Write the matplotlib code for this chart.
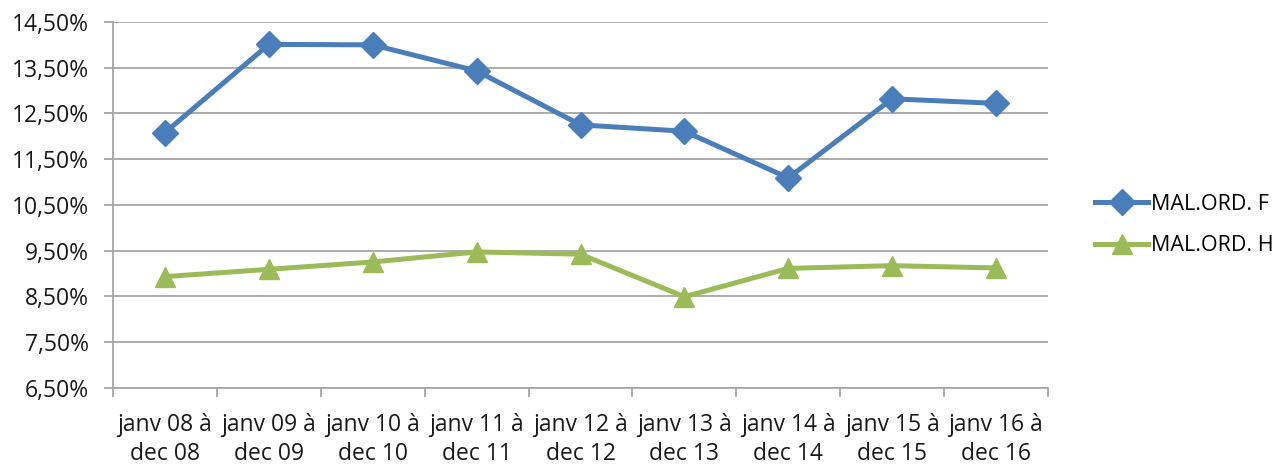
import matplotlib
matplotlib.use("Agg")
import matplotlib.pyplot as plt
from matplotlib.ticker import FuncFormatter, FixedLocator

plt.rcParams['font.family'] = ['Open Sans', 'DejaVu Sans']

categories = ["janv 08 à\ndec 08", "janv 09 à\ndec 09", "janv 10 à\ndec 10",
              "janv 11 à\ndec 11", "janv 12 à\ndec 12", "janv 13 à\ndec 13",
              "janv 14 à\ndec 14", "janv 15 à\ndec 15", "janv 16 à\ndec 16"]
mal_ord_f = [12.08, 14.01, 14.00, 13.43, 12.25, 12.11, 11.09, 12.82, 12.72]
mal_ord_h = [8.93, 9.09, 9.25, 9.47, 9.42, 8.49, 9.11, 9.17, 9.12]
yticks = [6.5, 7.5, 8.5, 9.5, 10.5, 11.5, 12.5, 13.5, 14.5]

FS = 16.5
fig = plt.figure(figsize=(12.82, 4.68), dpi=100)
ax = fig.add_axes([113/1282, 1-387.7/468, (1048-113)/1282, (387.7-22)/468])

x = list(range(len(categories)))
ax.plot(x, mal_ord_f, color='#4A7EBB', lw=3.6, marker='D', markersize=13,
        label='MAL.ORD. F', solid_joinstyle='round')
ax.plot(x, mal_ord_h, color='#9BBB59', lw=3.6, marker='^', markersize=15,
        label='MAL.ORD. H', solid_joinstyle='round')

ax.set_xlim(-0.5, len(categories) - 0.5)
ax.set_ylim(6.5, 14.5)
ax.yaxis.set_major_locator(FixedLocator(yticks))
ax.yaxis.set_major_formatter(FuncFormatter(lambda v, p: f"{v:.2f}%".replace('.', ',')))
ax.grid(axis='y', color='#A6A6A6', lw=1.3)
ax.set_axisbelow(True)

ax.set_xticks([i - 0.5 for i in range(len(categories) + 1)])
ax.set_xticklabels([])
ax.set_xticks(x, minor=True)
ax.set_xticklabels(categories, minor=True, fontsize=FS, color='#1A1A1A', linespacing=1.28)
ax.tick_params(axis='x', which='minor', length=0, pad=18)
ax.tick_params(axis='x', which='major', length=6.5, width=1.3, color='#A6A6A6', direction='out')
ax.tick_params(axis='y', length=6.5, width=1.3, color='#A6A6A6', labelsize=FS,
               labelcolor='#1A1A1A', pad=11)

for s in ['top', 'right']:
    ax.spines[s].set_visible(False)
for s in ['left', 'bottom']:
    ax.spines[s].set_color('#A6A6A6')
    ax.spines[s].set_linewidth(1.3)

leg = fig.legend(loc='center left', bbox_to_anchor=(1086/1282, 1-225/468), frameon=False,
                 fontsize=15.5, handlelength=2.5, handletextpad=0.1, labelspacing=0.95,
                 borderaxespad=0)

fig.savefig('out.png', dpi=100)
